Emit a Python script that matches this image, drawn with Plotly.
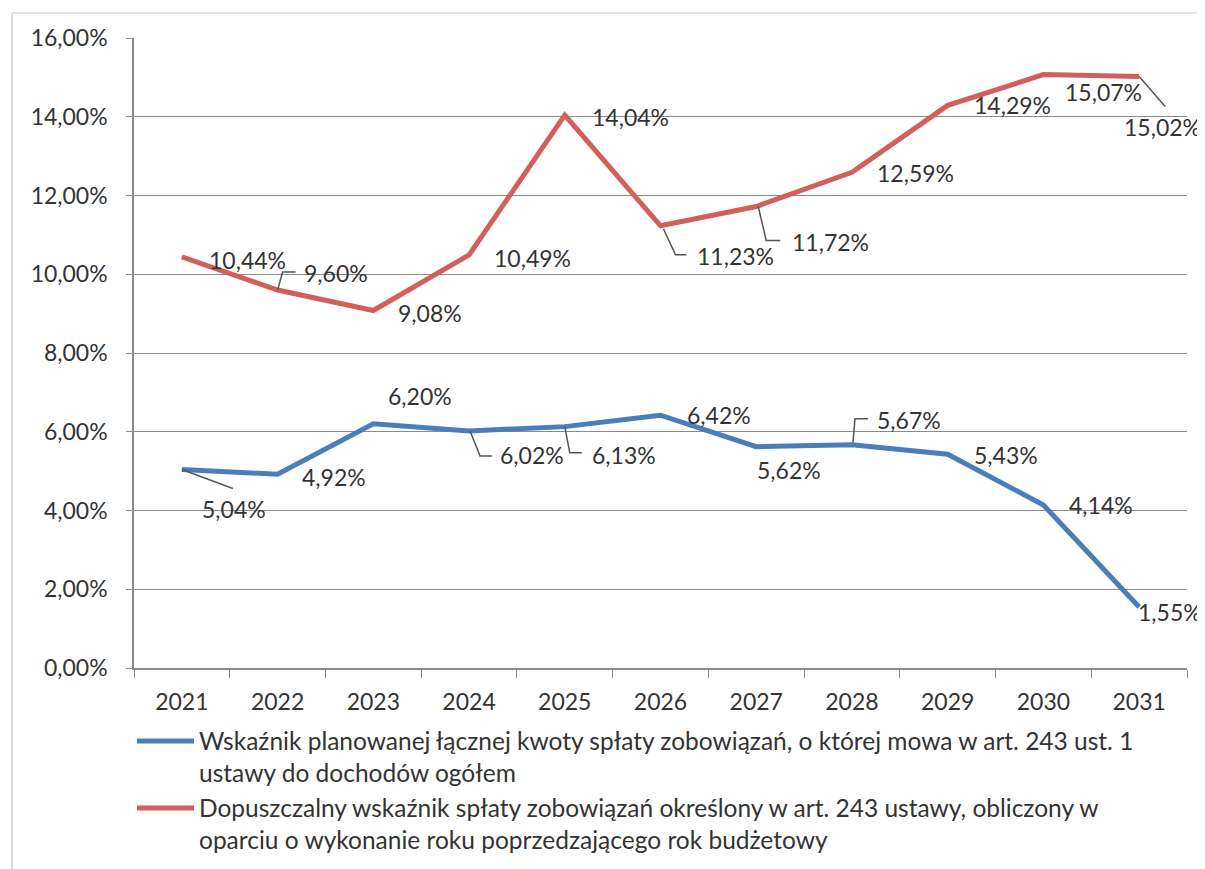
import plotly.graph_objects as go

# data (values in %)
years = ["2021", "2022", "2023", "2024", "2025", "2026", "2027", "2028", "2029", "2030", "2031"]
planned = [5.04, 4.92, 6.20, 6.02, 6.13, 6.42, 5.62, 5.67, 5.43, 4.14, 1.55]
allowed = [10.44, 9.60, 9.08, 10.49, 14.04, 11.23, 11.72, 12.59, 14.29, 15.07, 15.02]

name_planned = ("Wskaźnik planowanej łącznej kwoty spłaty zobowiązań, o której mowa w art. 243 ust. 1<br>"
                "ustawy do dochodów ogółem")
name_allowed = ("Dopuszczalny wskaźnik spłaty zobowiązań określony w art. 243 ustawy, obliczony w<br>"
                "oparciu o wykonanie roku poprzedzającego rok budżetowy")

BLUE = "#4A7EBB"
RED = "#D35F5B"
TXT = "#333333"
GRID = "#8C8C8C"
FONT = "Lato, Liberation Sans, sans-serif"

# label placement: (dx, dy) in px from the point to the label's left/middle, dy down
off_planned = [(18, 39), (22, 3), (13, -28), (29, 24), (25, 28), (24, 0), (-1, 23), (23, -25), (24, 1), (24, 0), (-3, 5)]
off_allowed = [(25, 3), (24, -17), (23, 3), (23, 3), (25, 2), (34, 30), (34, 35), (23, 1), (24, 0), (20, 17), (-17, 50)]

# leader lines, screen px relative to the point (y down)
lead_planned = {0: [(0, 0), (51, 19)],
                3: [(1, 0), (11, 25), (23, 25)],
                4: [(0, 0), (5, 26), (17, 26)],
                7: [(1, -2), (3, -26), (16, -26)]}
lead_allowed = {1: [(0, 0), (5, -18), (18, -18)],
                5: [(3, 3), (15, 29), (26, 29)],
                6: [(2, 0), (10, 34), (24, 34)],
                10: [(0, 0), (26, 30)]}

fig = go.Figure()
fig.add_trace(go.Scatter(x=years, y=planned, mode="lines", line=dict(color=BLUE, width=5),
                         showlegend=False, name="planned"))
fig.add_trace(go.Scatter(x=years, y=allowed, mode="lines", line=dict(color=RED, width=5),
                         showlegend=False, name="allowed"))

annotations = []
shapes = []


def fmt(v):
    return f"{v:.2f}".replace(".", ",") + "%"


for vals, offs, leads in [(planned, off_planned, lead_planned), (allowed, off_allowed, lead_allowed)]:
    for i, v in enumerate(vals):
        dx, dy = offs[i]
        annotations.append(dict(x=i, y=v, xref="x", yref="y", text=fmt(v), showarrow=False,
                                xanchor="left", yanchor="middle", xshift=dx, yshift=-dy,
                                font=dict(family=FONT, size=23, color=TXT)))
        if i in leads:
            pts = leads[i]
            path = "M" + " L".join(f"{px},{-py}" for px, py in pts)
            shapes.append(dict(type="path", xref="x", yref="y", xsizemode="pixel", ysizemode="pixel",
                               xanchor=i, yanchor=v, path=path,
                               line=dict(color="#555555", width=1.5)))

# manual legend (paper coords; plot area on screen is 134..1187 x, 38..668 y)
def px2x(px):
    return (px - 134) / 1053


def py2y(py):
    return (668 - py) / 630


for color, ly, label, cy in [(BLUE, 741, name_planned, 756), (RED, 808, name_allowed, 823)]:
    shapes.append(dict(type="line", xref="paper", yref="paper", x0=px2x(137), x1=px2x(194),
                       y0=py2y(ly), y1=py2y(ly), line=dict(color=color, width=5)))
    annotations.append(dict(x=px2x(197), y=py2y(cy), xref="paper", yref="paper", text=label,
                            showarrow=False, xanchor="left", yanchor="middle", align="left",
                            font=dict(family=FONT, size=24.5, color=TXT)))

# outer frame (left and top edges visible)
shapes.append(dict(type="line", xref="paper", yref="paper", x0=px2x(12), x1=px2x(12),
                   y0=py2y(13), y1=py2y(880), line=dict(color="#C8C8C8", width=1.5)))
shapes.append(dict(type="line", xref="paper", yref="paper", x0=px2x(12), x1=px2x(1200),
                   y0=py2y(13), y1=py2y(13), line=dict(color="#D8D8D8", width=1.5)))

# page has an 8px body margin, so the figure is shifted by 8px
fig.update_layout(
    width=1197, height=861,
    margin=dict(l=126, r=18, t=30, b=201),
    paper_bgcolor="white", plot_bgcolor="white",
    separators=", ",
    font=dict(family=FONT, size=23, color=TXT),
    annotations=annotations,
    shapes=shapes,
    showlegend=False,
)
fig.update_xaxes(type="category", range=[-0.5, 10.5], showgrid=False, showline=True,
                 linecolor=GRID, linewidth=1.5,
                 ticks="outside", tickson="boundaries", ticklen=8, tickcolor=GRID,
                 tickfont=dict(family=FONT, size=23, color=TXT), ticklabelstandoff=13)
fig.update_yaxes(range=[0, 16], dtick=2, tickformat=".2f", ticksuffix="%",
                 showgrid=True, gridcolor=GRID, gridwidth=1, zeroline=False,
                 showline=True, linecolor=GRID, linewidth=1.5,
                 ticks="outside", ticklen=6, tickcolor=GRID,
                 tickfont=dict(family=FONT, size=23, color=TXT), ticklabelstandoff=14)

fig.write_html("out.html")
